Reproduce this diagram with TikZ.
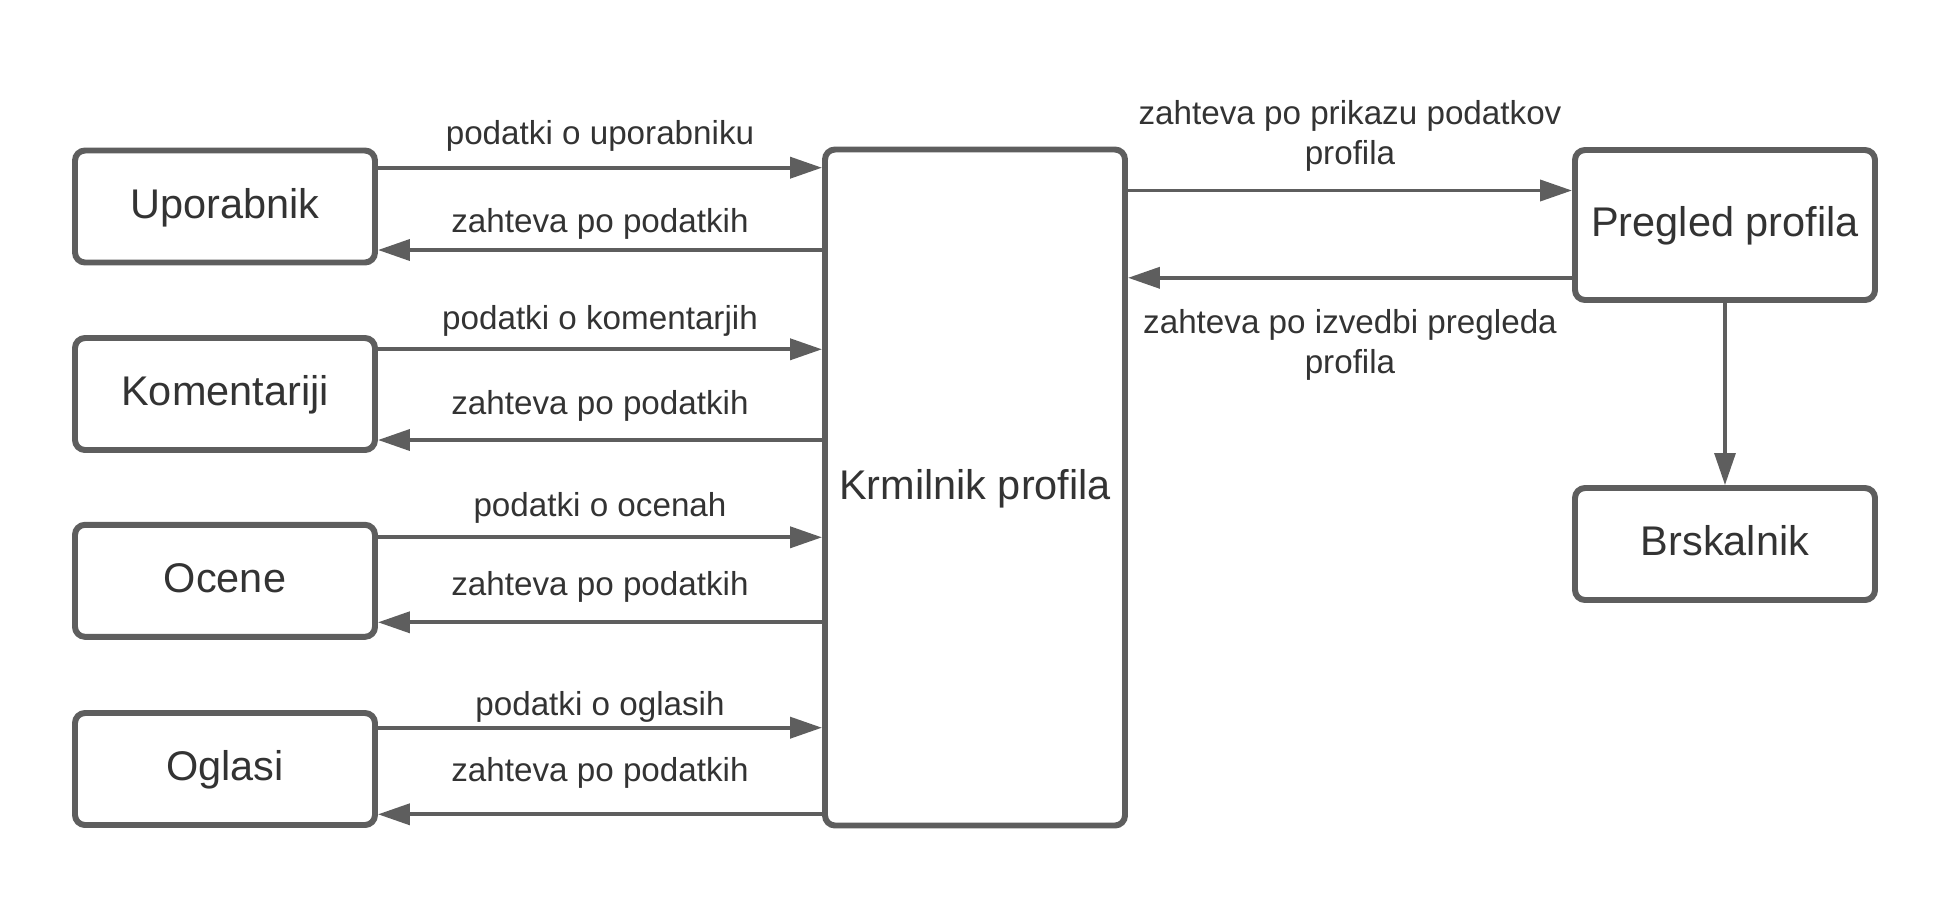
\documentclass[tikz,border=0pt]{standalone}
\usepackage{fontspec}
\setmainfont{Liberation Sans}
\usetikzlibrary{arrows.meta,positioning}
\definecolor{dfLine}{RGB}{94,94,94}
\definecolor{dfText}{RGB}{51,51,51}

\begin{document}
\begin{tikzpicture}[
    every node/.style={text=dfText},
    box/.style={rectangle,rounded corners=1mm,draw=dfLine,line width=1.7pt,
                fill=white,minimum width=3.0cm,minimum height=1.12cm,
                inner sep=1mm,text height=8.8pt,text depth=2.2pt,
                font=\fontsize{11.8}{14}\selectfont},
    lbl/.style={font=\fontsize{9.45}{11.4}\selectfont,align=center},
    arr/.style={-{Triangle[length=3.2mm,width=2.1mm]},line width=1.1pt,dfLine}
  ]
  \useasboundingbox (0,0) rectangle (19.5,-9.06);
  % Left column: data sources
  \node[box] (upor) at (2.25,-2.065) {Uporabnik};
  \node[box] (kom) at (2.25,-3.94) {Komentariji};
  \node[box] (ocene) at (2.25,-5.808) {Ocene};
  \node[box] (oglasi) at (2.25,-7.69) {Oglasi};
  % Middle: controller
  \node[box,minimum height=6.76cm] (krm) at (9.75,-4.875) {Krmilnik profila};
  % Right column: view and browser
  \node[box,minimum height=1.5cm] (pregled) at (17.25,-2.25) {Pregled profila};
  \node[box] (brsk) at (17.25,-5.44) {Brskalnik};
  % Anchor points on the left boxes
  \coordinate (u1) at ([yshift=3.88mm]upor.east);
  \coordinate (u2) at ([yshift=-4.35mm]upor.east);
  \coordinate (k1) at ([yshift=4.47mm]kom.east);
  \coordinate (k2) at ([yshift=-4.6mm]kom.east);
  \coordinate (o1) at ([yshift=4.35mm]ocene.east);
  \coordinate (o2) at ([yshift=-4.15mm]ocene.east);
  \coordinate (g1) at ([yshift=4.13mm]oglasi.east);
  \coordinate (g2) at ([yshift=-4.53mm]oglasi.east);
  \coordinate (p1) at ([yshift=3.45mm]pregled.west);
  \coordinate (p2) at ([yshift=-5.28mm]pregled.west);
  % Arrows to and from the controller
  \draw[arr] (u1) -- (u1 -| krm.west)
    node[lbl,midway,above=0.3mm] (lu1) {podatki o uporabniku};
  \draw[arr] (u2 -| krm.west) -- (u2)
    node[lbl,midway,above=-0.3mm] (lu2) {zahteva po podatkih};
  \draw[arr] (k1) -- (k1 -| krm.west)
    node[lbl,midway,above=-0.1mm] (lk1) {podatki o komentarjih};
  \draw[arr] (k2 -| krm.west) -- (k2)
    node[lbl,midway,above=0.5mm] (lk2) {zahteva po podatkih};
  \draw[arr] (o1) -- (o1 -| krm.west)
    node[lbl,midway,above=0mm] (lo1) {podatki o ocenah};
  \draw[arr] (o2 -| krm.west) -- (o2)
    node[lbl,midway,above=0.6mm] (lo2) {zahteva po podatkih};
  \draw[arr] (g1) -- (g1 -| krm.west)
    node[lbl,midway,above=-0.8mm] (lg1) {podatki o oglasih};
  \draw[arr] (g2 -| krm.west) -- (g2)
    node[lbl,midway,above=1.2mm] (lg2) {zahteva po podatkih};
  % Controller and view
  \draw[arr] (p1 -| krm.east) -- (p1)
    node[lbl,midway,above=0.5mm] (lp1) {zahteva po prikazu podatkov\\profila};
  \draw[arr] (p2) -- (p2 -| krm.east)
    node[lbl,midway,below=1.75mm] (lp2) {zahteva po izvedbi pregleda\\profila};
  \draw[arr,line width=0.9pt] (pregled) -- (brsk);
\end{tikzpicture}
\end{document}
